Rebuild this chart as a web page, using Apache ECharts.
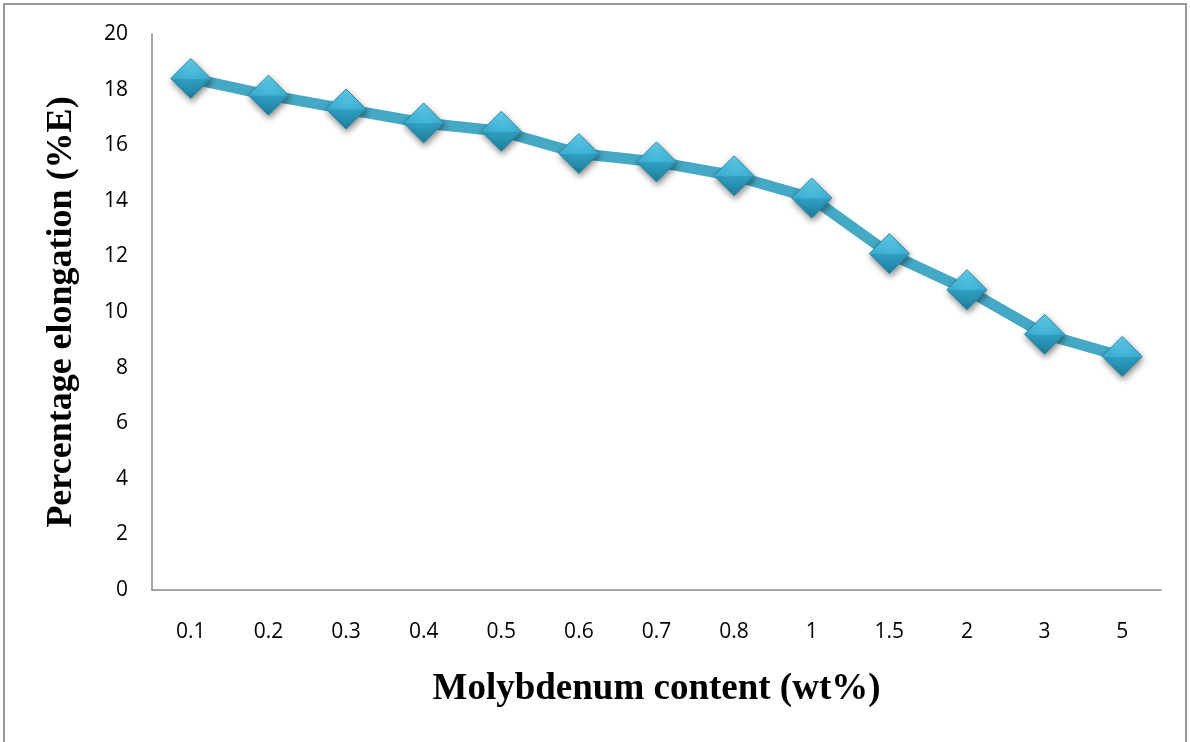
<!DOCTYPE html>
<html>
<head>
<meta charset="utf-8">
<script src="https://cdn.jsdelivr.net/npm/echarts@6/dist/echarts.min.js"></script>
<style>
  html, body { margin: 0; padding: 0; background: #fff; }
  #chart { width: 1190px; height: 742px; }
</style>
</head>
<body>
<div id="chart"></div>
<script>
// Molybdenum content (wt%) categories and measured elongation
const categories = ['0.1', '0.2', '0.3', '0.4', '0.5', '0.6', '0.7', '0.8', '1', '1.5', '2', '3', '5'];
const elongation = [18.4, 17.8, 17.3, 16.8, 16.5, 15.7, 15.4, 14.9, 14.1, 12.1, 10.8, 9.2, 8.4];
const yTicks = { min: 0, max: 20, step: 2 };

const chart = echarts.init(document.getElementById('chart'));

const tickFont = { fontFamily: '"Open Sans", sans-serif', fontSize: 21, color: '#000' };

chart.setOption({
  animation: false,
  backgroundColor: '#fff',
  graphic: [{
    type: 'rect',
    shape: { x: 4, y: 4, width: 1182, height: 760 },
    style: { fill: 'none', stroke: '#999', lineWidth: 2 },
    silent: true
  }],
  grid: { left: 152, right: 29, top: 34, bottom: 152, containLabel: false },
  xAxis: {
    type: 'category',
    data: categories,
    boundaryGap: true,
    axisLine: { lineStyle: { color: '#888', width: 1.5 } },
    axisTick: { show: false },
    axisLabel: Object.assign({ margin: 32 }, tickFont),
    name: 'Molybdenum content (wt%)',
    nameLocation: 'middle',
    nameGap: 81,
    nameTextStyle: { fontFamily: '"Liberation Serif", serif', fontWeight: 'bold', fontSize: 37, color: '#000' }
  },
  yAxis: {
    type: 'value',
    min: yTicks.min,
    max: yTicks.max,
    interval: yTicks.step,
    splitLine: { show: false },
    axisLine: { show: true, lineStyle: { color: '#888', width: 1.5 } },
    axisTick: { show: false },
    axisLabel: Object.assign({ margin: 24 }, tickFont),
    name: 'Percentage elongation (%E)',
    nameLocation: 'middle',
    nameGap: 72,
    nameTextStyle: { fontFamily: '"Liberation Serif", serif', fontWeight: 'bold', fontSize: 36, color: '#000' }
  },
  series: [{
    type: 'line',
    data: elongation,
    symbol: 'diamond',
    symbolSize: 40,
    lineStyle: { color: '#45A8C4', width: 11 },
    itemStyle: {
      color: new echarts.graphic.LinearGradient(0, 0, 0, 1, [
        { offset: 0, color: '#66D2F0' },
        { offset: 0.5, color: '#3EB3D6' },
        { offset: 0.52, color: '#2F9FC2' },
        { offset: 1, color: '#1F7E9C' }
      ]),
      borderColor: '#2A8AA8',
      borderWidth: 1,
      shadowColor: 'rgba(0,0,0,0.45)',
      shadowBlur: 6,
      shadowOffsetX: 1,
      shadowOffsetY: 3
    }
  }]
});
</script>
</body>
</html>
